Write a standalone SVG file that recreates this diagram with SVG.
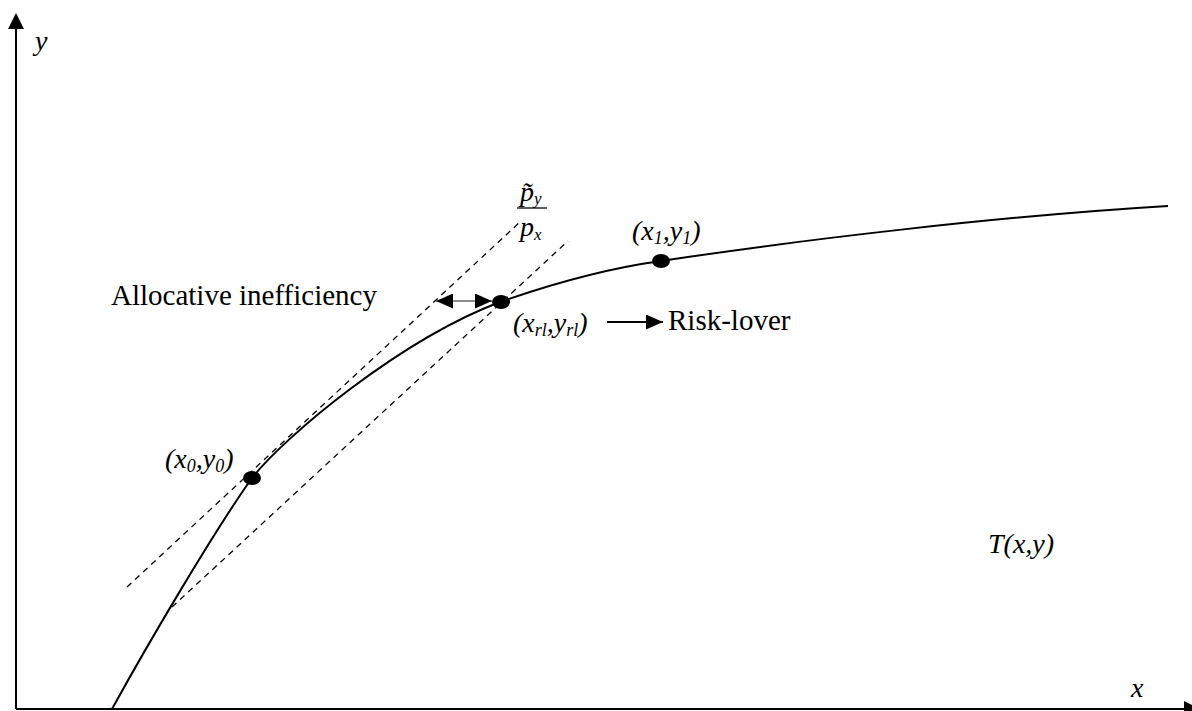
<svg xmlns="http://www.w3.org/2000/svg" width="1192" height="711" viewBox="0 0 1192 711">
<style>
.ax{stroke:#000;stroke-width:2;fill:none}
.dash{stroke:#000;stroke-width:1.3;stroke-dasharray:6,5;fill:none}
text{font-family:'Liberation Serif','Times New Roman',serif;fill:#000}
.i{font-style:italic}
</style>
<defs>
<marker id="ah" markerWidth="17" markerHeight="15" refX="17" refY="7.5" orient="auto" markerUnits="userSpaceOnUse">
<path d="M0,0 L17,7.5 L0,15 Z" fill="#000"/>
</marker>
<marker id="ahs" markerWidth="17" markerHeight="15" refX="0" refY="7.5" orient="auto" markerUnits="userSpaceOnUse">
<path d="M17,0 L0,7.5 L17,15 Z" fill="#000"/>
</marker>
</defs>
<rect width="1192" height="711" fill="#fff"/>
<g id="axes">
<line class="ax" x1="16" y1="709" x2="16" y2="26"/>
<path d="M16,13 L8,29 L24,29 Z" fill="#000"/>
<line class="ax" x1="16" y1="709" x2="1186" y2="709"/>
<path d="M1184,701 L1200,709 L1184,717 Z" fill="#000"/>
<text class="i" x="35" y="50" font-size="28">y</text>
<text class="i" x="1131" y="697" font-size="28">x</text>
</g>
<g id="connectors">
<line class="dash" x1="127" y1="587" x2="520" y2="222"/>
<line class="dash" x1="172" y1="607" x2="568" y2="241"/>
<line x1="436" y1="301" x2="492" y2="301" stroke="#666" stroke-width="1.5" marker-start="url(#ahs)" marker-end="url(#ah)"/>
<line x1="607" y1="322" x2="663" y2="322" stroke="#000" stroke-width="2" marker-end="url(#ah)"/>
</g>
<g id="curve">
<path class="ax" d="M112,709 C150,640 215,530 252,478 C285,436 400,340 500,302 C560,281 610,268 661,261 C800,240 1000,216 1168,206"/>
</g>
<g id="p0">
<ellipse cx="252" cy="478" rx="9" ry="7" fill="#000"/>
<text class="i" x="165" y="468" font-size="28">(x<tspan font-size="18" dy="4">0</tspan><tspan dy="-4">,y</tspan><tspan font-size="18" dy="4">0</tspan><tspan dy="-4">)</tspan></text>
</g>
<g id="prl">
<ellipse cx="501" cy="302" rx="9" ry="7" fill="#000"/>
<text class="i" x="513" y="332" font-size="28">(x<tspan font-size="18" dy="4">rl</tspan><tspan dy="-4">,y</tspan><tspan font-size="18" dy="4">rl</tspan><tspan dy="-4">)</tspan></text>
</g>
<g id="p1">
<ellipse cx="661" cy="261" rx="9" ry="7" fill="#000"/>
<text class="i" x="632" y="240" font-size="28">(x<tspan font-size="18" dy="4">1</tspan><tspan dy="-4">,y</tspan><tspan font-size="18" dy="4">1</tspan><tspan dy="-4">)</tspan></text>
</g>
<g id="ratio">
<text class="i" x="520" y="201" font-size="28">p̃<tspan font-size="17" dy="3">y</tspan></text>
<line x1="517" y1="208" x2="547" y2="208" stroke="#000" stroke-width="1.3"/>
<text class="i" x="520" y="236" font-size="28">p<tspan font-size="17" dy="4">x</tspan></text>
</g>
<g id="labels">
<text x="111" y="305" font-size="29">Allocative inefficiency</text>
<text x="668" y="330" font-size="29">Risk-lover</text>
<text class="i" x="988" y="553" font-size="28">T(x,y)</text>
</g>
</svg>
